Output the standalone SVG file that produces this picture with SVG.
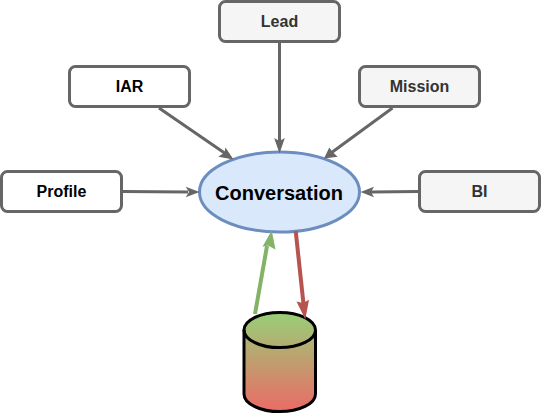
<svg xmlns="http://www.w3.org/2000/svg" width="541" height="414" viewBox="0 0 541 414">
<style>
.box{stroke:#666;stroke-width:3;}
.w{fill:#fff}.g{fill:#f5f5f5}
text{font-family:"Liberation Sans",Arial,sans-serif;font-weight:bold;text-anchor:middle;}
.t{font-size:16px;}
.k{fill:#000}.d{fill:#333}
.c{fill:none;stroke:#666;stroke-width:3;}
.h{fill:#666}
</style>
<defs>
<linearGradient id="grad" x1="0" y1="0" x2="0" y2="1"><stop offset="0" stop-color="#97d077"/><stop offset="1" stop-color="#ea6b66"/></linearGradient>
</defs>
<g id="lead"><rect class="box g" x="219.500" y="1.500" width="120" height="40" rx="6"/><text class="t d" x="279.500" y="27">Lead</text></g>
<g id="iar"><rect class="box w" x="69.500" y="66.500" width="120" height="40" rx="6"/><text class="t k" x="129.500" y="92">IAR</text></g>
<g id="mission"><rect class="box g" x="359.500" y="66.500" width="120" height="40" rx="6"/><text class="t d" x="419.500" y="92">Mission</text></g>
<g id="profile"><rect class="box w" x="1.500" y="171.500" width="120" height="40" rx="6"/><text class="t k" x="61.500" y="197">Profile</text></g>
<g id="bi"><rect class="box g" x="419.500" y="171.500" width="120" height="40" rx="6"/><text class="t d" x="479.500" y="197">BI</text></g>
<g id="conversation"><ellipse cx="279.500" cy="192" rx="80" ry="40" fill="#dae8fc" stroke="#6c8ebf" stroke-width="3"/><text class="k" x="279" y="200" font-size="20">Conversation</text></g>
<g id="database">
<path d="M244 330A35.500 17.500 0 0 1 315.500 330V394A35.500 17.500 0 0 1 244 394Z" fill="url(#grad)" stroke="#000" stroke-width="3"/>
<path d="M244 330A35.500 17.500 0 0 0 315.500 330" fill="none" stroke="#000" stroke-width="3"/>
</g>
<g id="connectors">
<path class="c" d="M279.500 43V142"/><path class="h" d="M279.500 153.500L274.200 138L279.500 141L284.800 138Z"/>
<path class="c" d="M159 108L226 154"/><path class="h" d="M233.500 159.500L218.300 156.800L224.500 152.500L225.500 147.500Z"/>
<path class="c" d="M392.500 108L331 153"/><path class="h" d="M324 158.500L329.300 147.500L332.500 152L337.700 156.700Z"/>
<path class="c" d="M123 191.500L188 192"/><path class="h" d="M199.500 192L185.700 186.700L189 192L185.700 197.200Z"/>
<path class="c" d="M418 191.500L371 192"/><path class="h" d="M360.500 192L374 186.700L371 192L374 197.200Z"/>
<path class="c" style="stroke:#82b366;stroke-width:4" d="M255 314L267 246"/><path fill="#82b366" d="M271.700 230.500L275.500 249.500L268 245.500L262.500 246.800Z"/>
<path class="c" style="stroke:#b85450;stroke-width:4" d="M295.700 231L303.500 304"/><path fill="#b85450" d="M305.300 319.500L296.500 301.500L303 303L309 299.800Z"/>
</g>
</svg>
